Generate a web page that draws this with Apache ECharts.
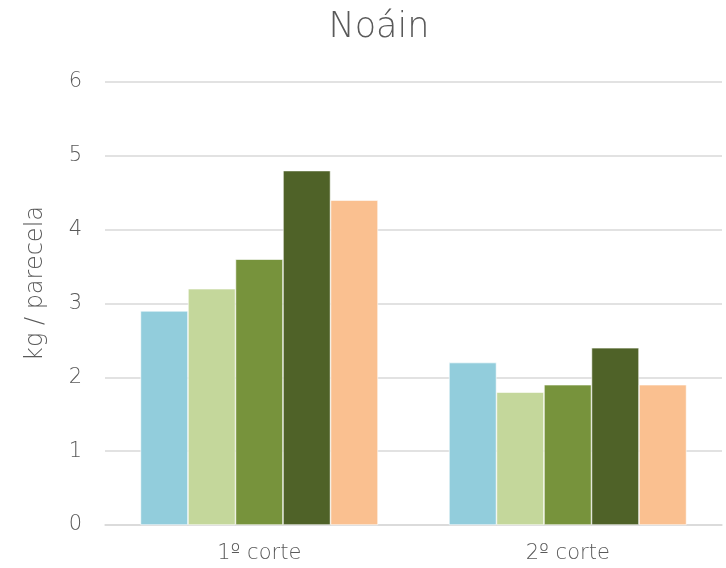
<!DOCTYPE html>
<html><head><meta charset="utf-8">
<script src="https://cdn.jsdelivr.net/npm/echarts@6/dist/echarts.min.js"></script>
<style>html,body{margin:0;padding:0;background:#fff}#c{width:726px;height:568px}</style>
</head><body><div id="c"></div>
<script>
const categories = ['1º corte', '2º corte'];
const serie1 = [2.9, 2.2];
const serie2 = [3.2, 1.8];
const serie3 = [3.6, 1.9];
const serie4 = [4.8, 2.4];
const serie5 = [4.4, 1.9];
const colors = ['#92CDDC', '#C4D79B', '#77933C', '#4F6228', '#FAC090'];
const font = '"DejaVu Sans", sans-serif';
const chart = echarts.init(document.getElementById('c'));
const mk = (d, i) => ({type: 'bar', data: d, itemStyle: {color: colors[i], borderColor: '#ffffff', borderWidth: 0.6}, barGap: '0%', barCategoryGap: '23%'});
chart.setOption({
  animation: false,
  title: {text: 'Noáin', left: 374, top: 5, textAlign: 'center', textStyle: {fontFamily: font, fontSize: 35, fontWeight: 200, color: '#595959'}},
  grid: {left: 105, right: 4, top: 82, bottom: 43, containLabel: false},
  xAxis: {type: 'category', data: categories,
    axisLine: {lineStyle: {color: '#d9d9d9', width: 1.5}}, axisTick: {show: false},
    axisLabel: {fontFamily: font, fontSize: 21, fontWeight: 200, color: '#595959', margin: 18}},
  yAxis: {type: 'value', min: 0, max: 6, interval: 1,
    name: 'kg / parecela', nameLocation: 'middle', nameGap: 57, nameRotate: 90,
    nameTextStyle: {fontFamily: font, fontSize: 24, fontWeight: 200, color: '#595959', padding: [0, 0, 0, 40]},
    axisLine: {show: false}, axisTick: {show: false},
    axisLabel: {fontFamily: font, fontSize: 21, fontWeight: 200, color: '#595959', margin: 23},
    splitLine: {lineStyle: {color: '#d9d9d9', width: 1.5}}},
  series: [serie1, serie2, serie3, serie4, serie5].map(mk)
});
</script></body></html>
